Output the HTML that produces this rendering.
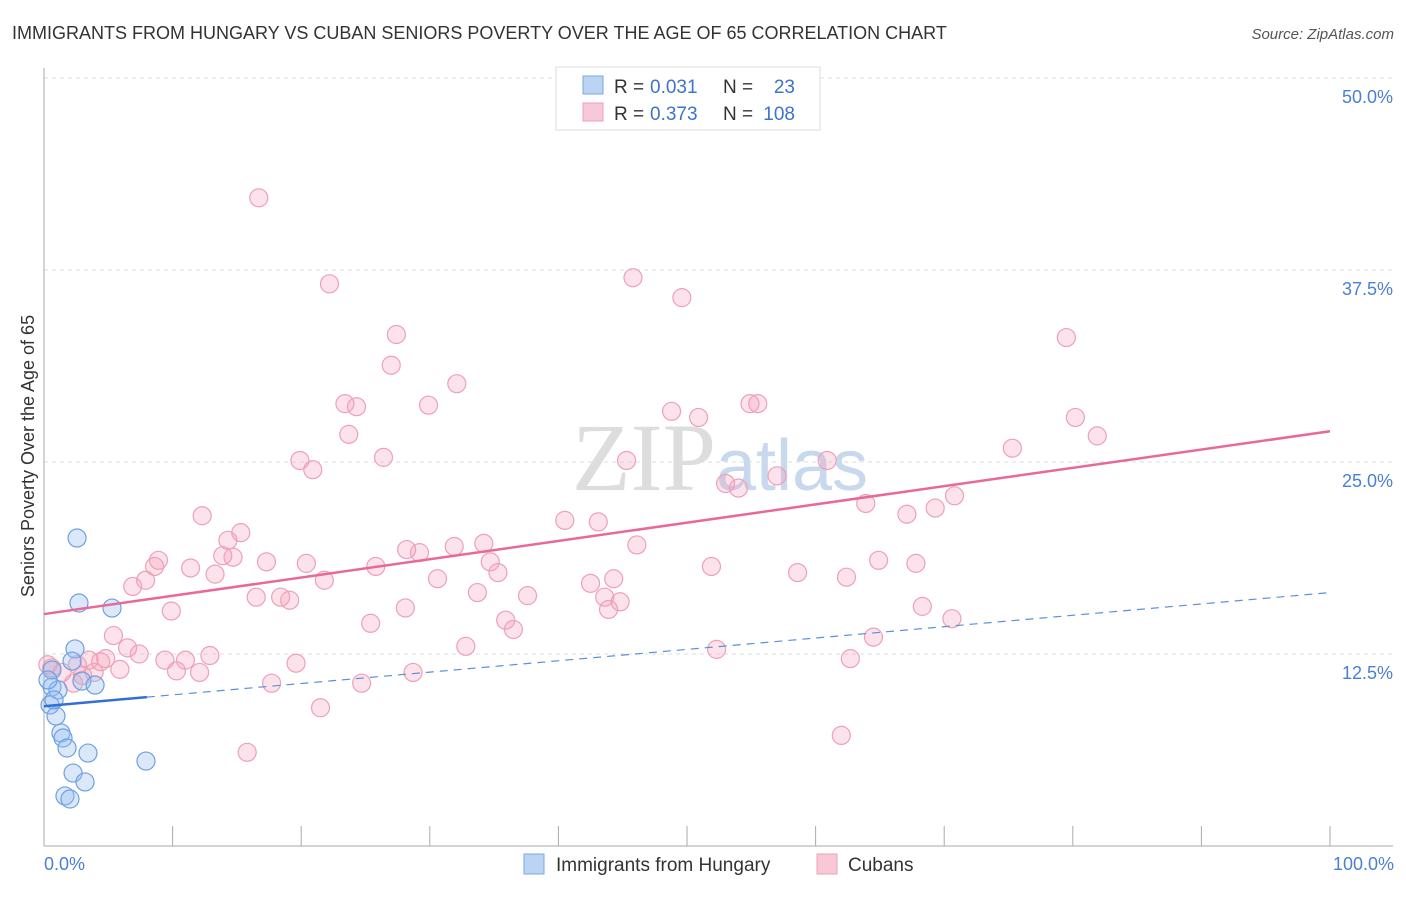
<!DOCTYPE html>
<html><head><meta charset="utf-8"><style>
body{margin:0;background:#fff;font-family:"Liberation Sans",sans-serif;}
</style></head><body>
<svg width="1406" height="892" viewBox="0 0 1406 892" xmlns="http://www.w3.org/2000/svg">
<text x="12" y="39" font-size="18" fill="#333">IMMIGRANTS FROM HUNGARY VS CUBAN SENIORS POVERTY OVER THE AGE OF 65 CORRELATION CHART</text>
<text x="1394" y="39" font-size="15" fill="#555" font-style="italic" text-anchor="end">Source: ZipAtlas.com</text>
<text x="720" y="490" font-size="96" fill="#ddd" text-anchor="middle" font-family="Liberation Serif,serif">ZIP<tspan fill="#c8d8ee" font-family="Liberation Sans,sans-serif" font-size="72">atlas</tspan></text>
<g id="grid"></g>
<g id="marks"></g>
<g id="lines"></g>
<text transform="translate(34,456) rotate(-90)" font-size="18" fill="#333" text-anchor="middle">Seniors Poverty Over the Age of 65</text>
<text x="44" y="870" font-size="18" fill="#4a7fd4">0.0%</text>
<text x="1394" y="870" font-size="18" fill="#4a7fd4" text-anchor="end">100.0%</text>
<g>
<rect x="556" y="67" width="264" height="63" fill="#fff" stroke="#ddd"/>
<rect x="583" y="76" width="20" height="18" fill="#bcd4f4" stroke="#7aa6e0"/>
<text x="614" y="93" font-size="19" fill="#333">R =</text>
<text x="650" y="93" font-size="19" fill="#3c73cc">0.031</text>
<text x="723" y="93" font-size="19" fill="#333">N =</text>
<text x="795" y="93" font-size="19" fill="#3c73cc" text-anchor="end">23</text>
<rect x="583" y="103" width="20" height="18" fill="#f8c8d6" stroke="#eea0b8"/>
<text x="614" y="120" font-size="19" fill="#333">R =</text>
<text x="650" y="120" font-size="19" fill="#3c73cc">0.373</text>
<text x="723" y="120" font-size="19" fill="#333">N =</text>
<text x="795" y="120" font-size="19" fill="#3c73cc" text-anchor="end">108</text>
</g>
<g>
<rect x="524" y="854" width="20" height="20" fill="#bcd4f4" stroke="#7aa6e0"/>
<text x="556" y="871" font-size="19" fill="#333">Immigrants from Hungary</text>
<rect x="817" y="854" width="20" height="20" fill="#f8c8d6" stroke="#eea0b8"/>
<text x="848" y="871" font-size="19" fill="#333">Cubans</text>
</g>
</svg>
<script>
const yTicks=[12.5,25,37.5,50];
const yTickLabels=["12.5%","25.0%","37.5%","50.0%"];
const xTicks=[0,10,20,30,40,50,60,70,80,90,100];
const hungaryX=[2.57,2.72,5.29,2.41,2.18,2.95,3.97,0.62,1.09,0.47,0.93,1.32,1.48,1.79,3.42,7.93,2.26,3.19,1.63,2.02,0.62,0.31,0.78];
const hungaryY=[20.05,15.82,15.49,12.83,12.04,10.74,10.48,10.35,10.16,9.18,8.46,7.36,7.03,6.38,6.05,5.53,4.75,4.17,3.26,3.06,11.46,10.81,9.51];
const cubaX=[16.7,22.2,45.8,49.6,27.4,27.0,79.5,32.1,23.4,24.3,29.9,48.8,50.9,54.9,55.5,80.2,81.9,23.7,26.4,19.9,20.9,45.3,60.9,75.3,53.0,54.0,57.0,63.9,70.8,69.3,67.1,12.3,15.3,14.3,40.5,43.1,46.1,28.2,29.2,34.2,31.9,13.9,14.7,8.9,8.6,11.4,17.3,20.4,25.8,34.7,35.3,51.9,58.6,64.9,67.8,62.4,7.9,6.9,13.3,21.8,30.6,42.5,44.3,16.5,18.4,19.1,33.7,37.6,43.6,44.8,43.9,9.9,28.1,68.3,70.6,25.4,35.9,36.5,5.4,6.5,7.4,32.8,52.3,64.5,4.8,3.5,4.4,9.4,11.0,12.9,19.6,62.7,2.6,3.9,5.9,10.3,12.1,28.7,0.6,1.4,3.0,2.3,17.7,24.7,21.5,62.0,15.8,0.3];
const cubaY=[42.2,36.6,37.0,35.7,33.3,31.3,33.1,30.1,28.8,28.6,28.7,28.3,27.9,28.8,28.8,27.9,26.7,26.8,25.3,25.1,24.5,25.1,25.1,25.9,23.6,23.3,24.1,22.3,22.8,22.0,21.6,21.5,20.4,19.9,21.2,21.1,19.6,19.3,19.1,19.7,19.5,18.9,18.8,18.6,18.2,18.1,18.5,18.4,18.2,18.5,17.8,18.2,17.8,18.6,18.4,17.5,17.3,16.9,17.7,17.3,17.4,17.1,17.4,16.2,16.2,16.0,16.5,16.3,16.2,15.9,15.4,15.3,15.5,15.6,14.8,14.5,14.7,14.1,13.7,12.9,12.5,13.0,12.8,13.6,12.2,12.1,12.0,12.1,12.1,12.4,11.9,12.2,11.8,11.3,11.5,11.4,11.3,11.3,11.6,11.3,11.1,10.6,10.6,10.6,9.0,7.2,6.1,11.8];
const cubaTrend=[15.1,27.0];
const hungaryTrend=[9.1,16.5];
const hungarySolidEnd=8;

const NS="http://www.w3.org/2000/svg";
const X=v=>44+v*12.86, Y=v=>846-v*15.36;
function mk(tag,attrs,parent){const e=document.createElementNS(NS,tag);for(const k in attrs)e.setAttribute(k,attrs[k]);document.getElementById(parent).appendChild(e);return e;}
yTicks.forEach((t,i)=>{
  const l=mk('line',{x1:44,x2:1393,y1:Y(t),y2:Y(t),stroke:'#ddd','stroke-dasharray':'4,4'},'grid');
  
  
  const tx=mk('text',{x:1393,y:Y(t)+25,'font-size':18,fill:'#4a7fd4','text-anchor':'end'},'grid');
  tx.textContent=yTickLabels[i];
  
  
});
const ax=mk('line',{x1:44,x2:44,y1:68,y2:846,stroke:'#aaa'},'grid');


const bx=mk('line',{x1:44,x2:1393,y1:846,y2:846,stroke:'#aaa'},'grid');


xTicks.forEach(t=>{
  const l=mk('line',{x1:X(t),x2:X(t),y1:826,y2:846,stroke:'#aaa'},'grid');
  
  
});
cubaX.forEach((v,i)=>{
  const c=mk('circle',{cx:X(v),cy:Y(cubaY[i]),r:9,fill:'rgba(244,160,185,0.3)',stroke:'#eea0b8','stroke-width':1.2},'marks');
  
  
});
hungaryX.forEach((v,i)=>{
  const c=mk('circle',{cx:X(v),cy:Y(hungaryY[i]),r:9,fill:'rgba(150,190,240,0.35)',stroke:'#6fa0e0','stroke-width':1.2},'marks');
  
  
});
const hy=x=>hungaryTrend[0]+(hungaryTrend[1]-hungaryTrend[0])*x/100;
const pl=mk('line',{x1:X(0),y1:Y(cubaTrend[0]),x2:X(100),y2:Y(cubaTrend[1]),stroke:'#e8689a','stroke-width':2.5},'lines');


const bl=mk('line',{x1:X(0),y1:Y(hy(0)),x2:X(hungarySolidEnd),y2:Y(hy(hungarySolidEnd)),stroke:'#2f6fd6','stroke-width':2.5},'lines');


const bd=mk('line',{x1:X(hungarySolidEnd),y1:Y(hy(hungarySolidEnd)),x2:X(100),y2:Y(hy(100)),stroke:'#5b8fdc','stroke-width':1.2,'stroke-dasharray':'8,6'},'lines');


</script>
</body></html>
